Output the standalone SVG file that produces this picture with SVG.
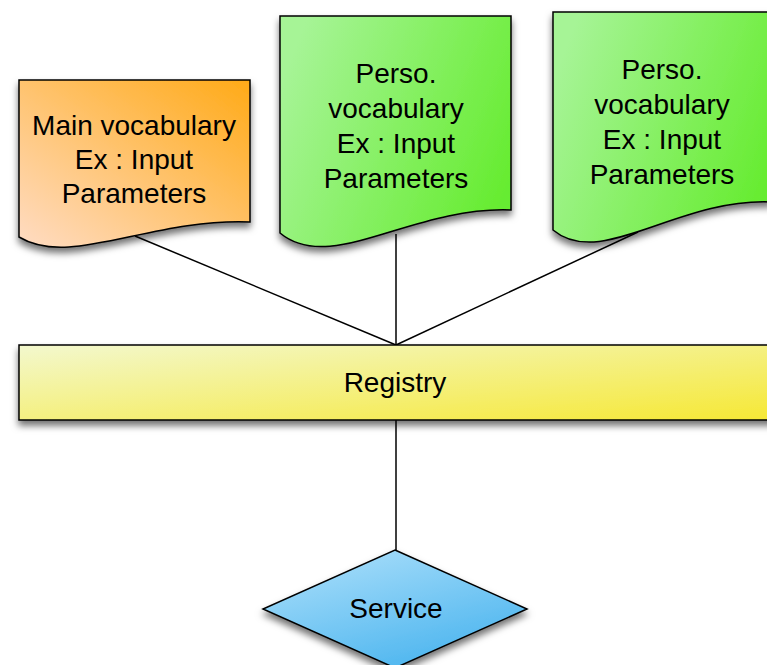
<svg xmlns="http://www.w3.org/2000/svg" width="767" height="665" viewBox="0 0 767 665">
<defs>
<linearGradient id="gOrange" x1="0" y1="1" x2="1" y2="0"><stop offset="0" stop-color="#FFDCC4"/><stop offset="1" stop-color="#FFAA17"/></linearGradient>
<linearGradient id="gGreen" x1="0" y1="0.3" x2="1" y2="0.7"><stop offset="0" stop-color="#A6F496"/><stop offset="1" stop-color="#66EC30"/></linearGradient>
<linearGradient id="gYellow" x1="0" y1="0" x2="1" y2="1"><stop offset="0" stop-color="#F3F8CE"/><stop offset="1" stop-color="#F6E834"/></linearGradient>
<linearGradient id="gBlue" x1="0.2" y1="0" x2="0.8" y2="1"><stop offset="0" stop-color="#A9DEFA"/><stop offset="1" stop-color="#45B2EE"/></linearGradient>
<filter id="shadow" x="-10%" y="-10%" width="120%" height="130%"><feDropShadow dx="0" dy="5" stdDeviation="3.5" flood-color="#000" flood-opacity="0.55"/></filter>
</defs>
<style>
.shape{stroke:#000;stroke-width:1.5;filter:url(#shadow)}
.lbl{font-family:"Liberation Sans",Arial,sans-serif;font-size:28px;fill:#000;text-anchor:middle}
.conn{stroke:#000;stroke-width:1.5;fill:none}
</style>
<g id="connectors">
<line class="conn" x1="396" y1="345" x2="135" y2="236"/>
<line class="conn" x1="396" y1="345" x2="396" y2="234"/>
<line class="conn" x1="396" y1="345" x2="638" y2="232"/>
<line class="conn" x1="396" y1="420" x2="396" y2="550"/>
</g>
<g id="main-vocabulary">
<path class="shape" fill="url(#gOrange)" d="M19,80 H250 V222 C150,218 70,268 19,237 Z"/>
<text class="lbl" x="134" y="135">Main vocabulary</text>
<text class="lbl" x="134" y="169">Ex : Input</text>
<text class="lbl" x="134" y="203">Parameters</text>
</g>
<g id="perso-vocabulary-1">
<path class="shape" fill="url(#gGreen)" d="M280,16 H511 V210 C411,206 331,275 280,233 Z"/>
<text class="lbl" x="396" y="83">Perso.</text>
<text class="lbl" x="396" y="118">vocabulary</text>
<text class="lbl" x="396" y="153">Ex : Input</text>
<text class="lbl" x="396" y="188">Parameters</text>
</g>
<g id="perso-vocabulary-2">
<path class="shape" fill="url(#gGreen)" d="M553,12 H771 V202 C677,198 601,270 553,230 Z"/>
<text class="lbl" x="662" y="79">Perso.</text>
<text class="lbl" x="662" y="114">vocabulary</text>
<text class="lbl" x="662" y="149">Ex : Input</text>
<text class="lbl" x="662" y="184">Parameters</text>
</g>
<g id="registry">
<rect class="shape" fill="url(#gYellow)" x="19" y="345" width="760" height="75"/>
<text class="lbl" x="395" y="392">Registry</text>
</g>
<g id="service">
<polygon class="shape" fill="url(#gBlue)" points="395,550 527,609 395,668 263,609"/>
<text class="lbl" x="396" y="618">Service</text>
</g>
</svg>
